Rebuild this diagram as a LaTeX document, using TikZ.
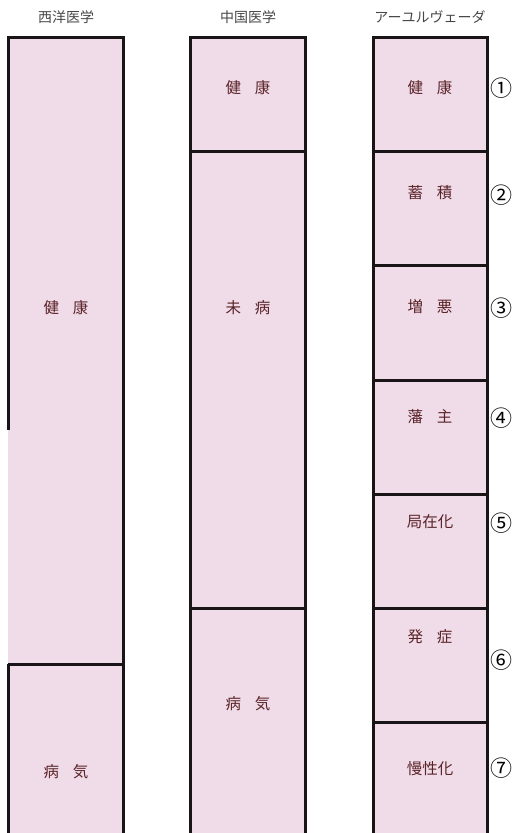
\documentclass[tikz,border=0pt]{standalone}
\usepackage{fontspec}
\setmainfont{Noto Sans CJK JP}
\newfontfamily\cjk{Noto Sans CJK JP}
\definecolor{pinkfill}{RGB}{240,220,232}
\definecolor{edgecol}{RGB}{25,20,22}
\definecolor{labcol}{RGB}{90,35,40}
\definecolor{headcol}{RGB}{70,70,70}
\tikzset{
  box/.style={fill=pinkfill,draw=none},
  edgeline/.style={draw=edgecol,line width=3pt},
  lab/.style={text=labcol,font=\cjk\fontsize{15.5}{17}\selectfont,inner sep=0pt},
  head/.style={text=headcol,font=\cjk\fontsize{14}{16}\selectfont,inner sep=0pt},
  num/.style={text=black,font=\cjk\fontsize{22}{24}\selectfont,inner sep=0pt}
}
\begin{document}
\begin{tikzpicture}[x=1pt,y=-1pt]
\useasboundingbox (0,0) rectangle (514,833);
% fills
\fill[box] (8,37) rectangle (123,833);
\fill[box] (190,37) rectangle (305,833);
\fill[box] (373,37) rectangle (487,833);
% column 1
\draw[edgeline] (8,833) -- (8,664);
\draw[edgeline] (8,430) -- (8,37) -- (123,37) -- (123,833);
\draw[edgeline] (8,664) -- (123,664);
% column 2
\draw[edgeline] (190,833) -- (190,37) -- (305,37) -- (305,833);
\draw[edgeline] (190,151) -- (305,151);
\draw[edgeline] (190,608) -- (305,608);
% column 3
\draw[edgeline] (373,833) -- (373,37) -- (487,37) -- (487,833);
\foreach \yy in {151,265,380,494,608,722}
  \draw[edgeline] (373,\yy) -- (487,\yy);
% headers
\node[head] (h1) at (66,17) {西洋医学};
\node[head] (h2) at (248,17) {中国医学};
\node[head] (h3) at (430,17) {アーユルヴェーダ};
% column 1 labels
\node[lab] (a1) at (66,308) {健\hspace{0.9em}康};
\node[lab] (a2) at (66,772) {病\hspace{0.9em}気};
% column 2 labels
\node[lab] (b1) at (248,88) {健\hspace{0.9em}康};
\node[lab] (b2) at (248,308) {未\hspace{0.9em}病};
\node[lab] (b3) at (248,704) {病\hspace{0.9em}気};
% column 3 labels
\node[lab] (c1) at (430,88) {健\hspace{0.9em}康};
\node[lab] (c2) at (430,193) {蓄\hspace{0.9em}積};
\node[lab] (c3) at (430,307) {増\hspace{0.9em}悪};
\node[lab] (c4) at (430,417) {藩\hspace{0.9em}主};
\node[lab] (c5) at (430,522) {局在化};
\node[lab] (c6) at (430,637) {発\hspace{0.9em}症};
\node[lab] (c7) at (430,769) {慢性化};
% numbers
\node[num] (n1) at (501,88) {①};
\node[num] (n2) at (501,195) {②};
\node[num] (n3) at (501,308) {③};
\node[num] (n4) at (501,418) {④};
\node[num] (n5) at (501,523) {⑤};
\node[num] (n6) at (501,660) {⑥};
\node[num] (n7) at (501,768) {⑦};
\end{tikzpicture}
\end{document}
